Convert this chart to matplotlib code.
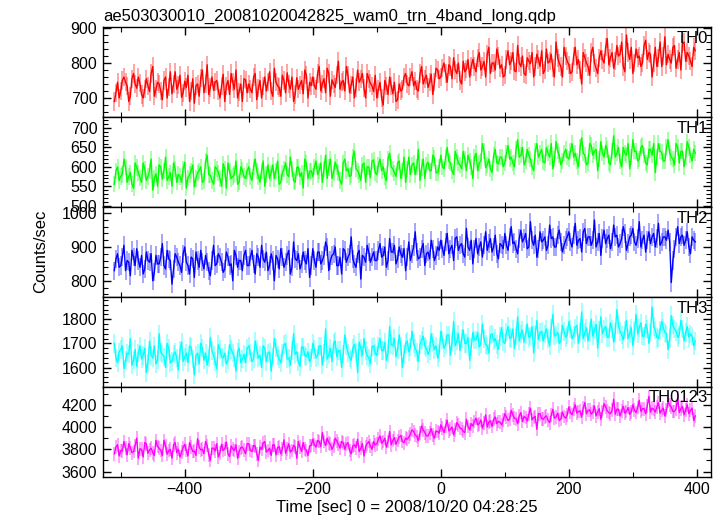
import numpy as np
import matplotlib
matplotlib.use("Agg")
import matplotlib.pyplot as plt
from matplotlib.ticker import MultipleLocator

plt.rcParams['font.family'] = ['Liberation Sans', 'DejaVu Sans']

title = "ae503030010_20081020042825_wam0_trn_4band_long.qdp"
xlabel = "Time [sec] 0 = 2008/10/20 04:28:25"
ylabel = "Counts/sec"
names = ["TH0", "TH1", "TH2", "TH3", "TH0123"]
colors = ["#ff0000", "#00ff00", "#0000ff", "#00ffff", "#ff00ff"]

# bins start at -510 s (list "a") and at -507.5 s (list "b"), 5 s apart each
t0_a = -510.0
t0_b = -507.5
step = 5.0

th0_a = [690, 745, 720, 760, 735, 705, 770, 728, 742, 700, 755, 718, 790, 725, 740, 695, 760, 732, 712, 775, 738, 702, 748, 765, 720, 685, 740, 758, 715, 795, 730, 722, 750, 700, 768, 735, 710, 745, 780, 718, 690, 752,
         740, 715, 770, 728, 700, 760, 745, 720, 785, 735, 705, 750, 772, 725, 690, 758, 738, 712, 765, 745,
         760, 725, 790, 740, 715, 770, 752, 730, 805, 745, 720, 765, 738, 700, 780, 755, 728, 770, 742, 718,
         700, 745, 680, 735, 760, 712, 690, 740, 725, 770,
         735, 775, 748, 720, 790, 755, 730, 768, 745, 780,
         760, 800, 745, 790, 815, 770, 750, 805, 782, 760,
         810, 775, 830, 790, 760, 845, 800, 780, 820, 795, 765, 835, 805, 778, 850, 790, 770, 815, 798, 760,
         825, 790, 770, 840, 805, 785, 860, 800, 760, 820, 795, 775, 845, 810, 740, 815, 790, 830, 800, 770,
         835, 800, 870, 815, 785, 850, 825, 790, 880, 810, 770, 840, 820, 800, 865, 830, 760, 845, 815, 790, 875, 825, 800, 850, 810, 780, 860, 830, 805, 845]
th0_b = [715, 700, 750, 745, 690, 755, 740, 760, 710, 725, 735, 770, 705, 745, 720, 750, 700, 775, 740, 725, 765, 715, 730, 690, 755, 735, 705, 780, 740, 710, 760, 745, 720, 735, 690, 750, 770, 725, 700, 740, 755, 715,
         725, 760, 695, 750, 735, 720, 775, 705, 745, 730, 765, 715, 740, 760, 710, 725, 750, 780, 700, 735,
         735, 770, 720, 755, 785, 705, 740, 765, 725, 750, 790, 715, 760, 730, 745, 770, 700, 755, 735, 765,
         725, 700, 750, 710, 735, 745, 695, 720, 760, 740,
         760, 735, 725, 770, 740, 765, 745, 710, 785, 755,
         785, 770, 795, 755, 780, 800, 740, 775, 810, 790,
         790, 815, 780, 805, 825, 770, 800, 840, 785, 760, 810, 795, 830, 775, 800, 820, 765, 805, 830, 790,
         810, 835, 780, 800, 825, 760, 815, 790, 845, 805, 770, 820, 795, 780, 830, 800, 765, 845, 785, 815,
         810, 845, 795, 830, 805, 820, 860, 775, 830, 845, 800, 815, 790, 850, 810, 825, 800, 790, 860, 820, 795, 810, 845, 785, 830, 855, 805, 820, 790, 835]

th1_a = [555, 600, 575, 620, 560, 585, 545, 598, 572, 610, 565, 590, 540, 582, 605, 568, 625, 575, 550, 595, 580, 560, 612, 572, 590, 548, 585, 600, 565, 630, 578, 555, 595, 570, 608, 545, 588, 575, 615, 560, 592, 570,
         600, 565, 620, 575, 590, 550, 605, 585, 570, 615, 560, 595, 580, 625, 565, 598, 575, 545, 610, 588,
         575, 615, 590, 560, 630, 598, 570, 612, 585, 555, 620, 595, 578, 640, 590, 565, 610, 600, 572, 618,
         580, 620, 600, 565, 635, 595, 575, 615, 590, 560, 625, 605, 580, 645, 598, 570, 612, 590, 622, 585,
         630, 595, 650, 610, 580, 625, 605, 640, 590, 615, 570, 635, 610, 660, 598, 620, 585, 645, 608, 625,
         610, 655, 625, 600, 670, 630, 605, 645, 620, 590, 660, 635, 612, 650, 625, 595, 665, 630, 615, 645,
         620, 660, 635, 600, 675, 630, 610, 655, 640, 590, 665, 625, 645, 605, 680, 635, 615, 650, 630, 595, 670, 640, 620, 655, 610, 645, 630, 585, 660, 638, 615, 670, 625, 605, 650, 640, 600, 665, 630, 645]
th1_b = [590, 565, 580, 600, 575, 555, 610, 585, 560, 595, 575, 620, 570, 550, 600, 590, 565, 585, 610, 560, 575, 595, 545, 580, 605, 570, 590, 560, 615, 580, 565, 600, 585, 550, 595, 610, 570, 580, 555, 600, 575, 590,
         575, 600, 590, 560, 615, 580, 570, 605, 590, 555, 585, 610, 575, 595, 560, 600, 585, 620, 570, 590,
         600, 580, 610, 595, 570, 620, 585, 600, 565, 610, 590, 575, 625, 595, 580, 605, 560, 600, 615, 585,
         605, 590, 575, 620, 600, 585, 610, 570, 625, 595, 580, 610, 600, 565, 620, 605, 590, 630, 585, 600,
         600, 625, 615, 590, 640, 610, 595, 620, 630, 600, 625, 590, 615, 640, 605, 595, 630, 610, 625, 600,
         635, 620, 610, 645, 625, 650, 615, 630, 600, 640, 625, 645, 610, 635, 660, 620, 640, 605, 635, 625,
         640, 625, 615, 650, 635, 605, 660, 630, 645, 620, 635, 655, 610, 640, 625, 650, 600, 635, 660, 625, 640, 615, 650, 630, 605, 645, 660, 625, 640, 615, 650, 635, 620, 660, 610, 640, 625, 650, 615, 635]

th2_a = [830, 880, 845, 905, 860, 815, 870, 895, 840, 820, 885, 855, 800, 875, 850, 910, 835, 865, 790, 880, 855, 825, 900, 845, 870, 810, 860, 890, 835, 855, 815, 905, 850, 870, 825, 885, 845, 800, 875, 860, 830, 890,
         845, 890, 820, 870, 905, 855, 830, 880, 800, 865, 895, 840, 875, 820, 915, 860, 835, 885, 850, 810,
         895, 840, 885, 860, 915, 830, 875, 900, 845, 820, 890, 870, 930, 850, 880, 805, 870, 905, 855, 885,
         860, 910, 875, 840, 925, 885, 850, 900, 870, 830, 915, 880, 945, 865, 895, 845, 885, 920, 860, 900,
         920, 875, 940, 895, 860, 930, 905, 880, 955, 890, 850, 925, 900, 870, 945, 910, 885, 935, 865, 905,
         940, 890, 960, 915, 880, 950, 925, 895, 975, 905, 870, 945, 920, 890, 965, 930, 900, 950, 885, 920,
         945, 900, 970, 920, 885, 955, 930, 905, 980, 915, 875, 950, 925, 895, 965, 935, 910, 960, 890, 930, 955, 905, 975, 920, 885, 945, 930, 900, 970, 915, 930, 950, 795, 895, 960, 930, 905, 945, 880, 920]
th2_b = [865, 840, 870, 830, 855, 890, 845, 860, 875, 835, 860, 880, 825, 850, 870, 845, 890, 860, 835, 870, 845, 880, 855, 820, 865, 885, 840, 855, 875, 830, 860, 845, 880, 855, 835, 870, 850, 890, 840, 860, 875, 845,
         870, 850, 880, 840, 865, 885, 845, 860, 875, 835, 870, 855, 890, 840, 865, 880, 850, 860, 895, 845,
         860, 885, 850, 875, 900, 860, 880, 845, 870, 895, 855, 880, 865, 840, 890, 875, 855, 885, 870, 860,
         890, 870, 900, 860, 885, 905, 865, 880, 895, 870, 860, 900, 885, 870, 910, 880, 865, 895, 875, 890,
         895, 915, 880, 905, 925, 890, 910, 870, 900, 920, 895, 880, 915, 905, 890, 925, 900, 880, 910, 895,
         905, 930, 910, 895, 925, 915, 940, 900, 920, 935, 895, 915, 930, 905, 925, 900, 935, 915, 905, 930,
         915, 935, 905, 925, 945, 910, 930, 920, 900, 940, 925, 910, 935, 915, 930, 900, 925, 940, 910, 935, 915, 925, 900, 935, 920, 910, 940, 925, 905, 930, 920, 915, 860, 930, 910, 935, 920, 900, 930, 915]

th3_a = [1700, 1620, 1675, 1595, 1660, 1720, 1630, 1605, 1690, 1650, 1580, 1710, 1640, 1615, 1740, 1655, 1600, 1680, 1625, 1665, 1590, 1705, 1645, 1620, 1685, 1570, 1660, 1700, 1630, 1610, 1725, 1650, 1595, 1675, 1640, 1615, 1695, 1660, 1585, 1680, 1635, 1620,
         1690, 1625, 1710, 1640, 1600, 1680, 1660, 1585, 1720, 1650, 1620, 1695, 1635, 1610, 1740, 1665, 1605, 1685, 1645, 1625,
         1700, 1640, 1690, 1610, 1760, 1655, 1625, 1710, 1670, 1600, 1735, 1660, 1630, 1695, 1580, 1680, 1720, 1650, 1615, 1690,
         1650, 1720, 1670, 1630, 1770, 1690, 1645, 1735, 1600, 1700, 1665, 1750, 1680, 1625, 1715, 1690, 1655, 1740, 1675, 1640,
         1750, 1680, 1735, 1650, 1790, 1710, 1670, 1755, 1700, 1630, 1745, 1715, 1685, 1780, 1695, 1660, 1740, 1720, 1675, 1765,
         1700, 1770, 1725, 1680, 1810, 1740, 1705, 1780, 1730, 1660, 1795, 1745, 1710, 1760, 1690, 1820, 1735, 1700, 1775, 1725,
         1790, 1720, 1765, 1700, 1830, 1745, 1710, 1800, 1755, 1680, 1810, 1760, 1725, 1785, 1705, 1840, 1750, 1715, 1795, 1740, 1690, 1820, 1765, 1730, 1780, 1700, 1850, 1755, 1720, 1790, 1745, 1675, 1815, 1760, 1725, 1795, 1710, 1770, 1740, 1690]
th3_b = [1640, 1665, 1690, 1630, 1655, 1610, 1675, 1660, 1635, 1680, 1620, 1650, 1690, 1630, 1665, 1645, 1700, 1620, 1655, 1640, 1670, 1625, 1660, 1690, 1635, 1650, 1615, 1680, 1660, 1640, 1670, 1625, 1695, 1645, 1660, 1630, 1675, 1640, 1665, 1620, 1655, 1680,
         1660, 1635, 1675, 1650, 1690, 1625, 1665, 1645, 1680, 1635, 1660, 1700, 1640, 1670, 1655, 1625, 1685, 1650, 1665, 1640,
         1675, 1650, 1690, 1660, 1635, 1680, 1700, 1645, 1670, 1655, 1690, 1640, 1680, 1665, 1705, 1650, 1670, 1640, 1685, 1660,
         1690, 1670, 1705, 1660, 1695, 1720, 1675, 1690, 1655, 1710, 1685, 1700, 1665, 1695, 1730, 1680, 1670, 1705, 1690, 1660,
         1715, 1695, 1735, 1705, 1690, 1740, 1720, 1700, 1725, 1685, 1715, 1745, 1700, 1720, 1690, 1735, 1710, 1695, 1730, 1705,
         1745, 1720, 1760, 1730, 1710, 1755, 1740, 1725, 1770, 1735, 1715, 1750, 1740, 1720, 1765, 1730, 1745, 1710, 1750, 1735,
         1760, 1735, 1775, 1745, 1720, 1765, 1750, 1730, 1780, 1755, 1740, 1770, 1725, 1760, 1745, 1775, 1735, 1755, 1720, 1765, 1750, 1740, 1785, 1730, 1760, 1745, 1770, 1725, 1755, 1765, 1740, 1720, 1775, 1750, 1735, 1760, 1745, 1725, 1730, 1710]

th0123_a = [3760, 3840, 3790, 3870, 3750, 3815, 3780, 3900, 3805, 3730, 3850, 3795, 3770, 3880, 3810, 3745, 3830, 3790, 3720, 3860, 3800, 3775, 3845, 3740, 3820, 3785, 3895, 3795, 3760, 3835, 3700, 3810, 3850, 3770, 3790, 3865, 3735, 3805, 3840, 3780, 3820, 3760,
            3850, 3780, 3830, 3700, 3800, 3870, 3790, 3745, 3840, 3815, 3760, 3885, 3805, 3775, 3835, 3720, 3820, 3860, 3790, 3830,
            3890, 3820, 3870, 3950, 3835, 3860, 3800, 3900, 3845, 3870,
            3800, 3860, 3760, 3840, 3890, 3810, 3740, 3850, 3830, 3870,
            3850, 3920, 3870, 3820, 3960, 3880, 3845, 3910, 3870, 3900,
            3910, 3975, 3930, 3880, 4010, 3950, 3920, 3985, 3900, 3960,
            4020, 3950, 4060, 3980, 3930, 4040, 3990, 3960, 4070, 3975,
            4010, 4080, 4030, 3990, 4110, 4045, 4005, 4090, 4050, 4020,
            4120, 4060, 4150, 4080, 4030, 4130, 4095, 4055, 4170, 4085, 3980, 4120, 4070, 4100, 4040, 4160, 4090, 4060, 4135, 4080,
            4180, 4110, 4200, 4140, 4090, 4220, 4150, 4115, 4190, 4135, 4070, 4210, 4145, 4120, 4250, 4160, 4100, 4185, 4140, 4115,
            4200, 4130, 4240, 4165, 4120, 4275, 4170, 4135, 4220, 4150, 4100, 4230, 4180, 4140, 4260, 4165, 4110, 4200, 4150, 4060]
th0123_b = [3820, 3740, 3785, 3810, 3850, 3770, 3835, 3720, 3800, 3860, 3765, 3810, 3745, 3825, 3790, 3880, 3755, 3800, 3840, 3770, 3730, 3815, 3790, 3860, 3780, 3745, 3820, 3800, 3870, 3750, 3810, 3785, 3730, 3845, 3805, 3760, 3830, 3790, 3720, 3815, 3795, 3850,
            3790, 3835, 3760, 3820, 3855, 3775, 3810, 3840, 3750, 3825, 3800, 3765, 3850, 3790, 3820, 3870, 3780, 3805, 3745, 3835,
            3840, 3880, 3825, 3870, 3900, 3845, 3830, 3875, 3810, 3860,
            3845, 3790, 3830, 3815, 3780, 3850, 3825, 3870, 3800, 3840,
            3890, 3855, 3900, 3870, 3840, 3905, 3880, 3925, 3860, 3890,
            3935, 3960, 3915, 3945, 3975, 3920, 3950, 3930, 3965, 3945,
            3990, 4010, 3965, 4000, 3975, 4020, 3985, 3950, 4005, 4030,
            4050, 4020, 4065, 4035, 4000, 4055, 4070, 4030, 4045, 4060,
            4090, 4070, 4110, 4075, 4100, 4050, 4085, 4115, 4065, 4095, 4120, 4075, 4090, 4060, 4105, 4080, 4125, 4070, 4095, 4110,
            4130, 4160, 4125, 4145, 4170, 4120, 4155, 4135, 4100, 4165, 4140, 4180, 4130, 4150, 4115, 4160, 4145, 4125, 4175, 4135,
            4150, 4175, 4140, 4165, 4190, 4135, 4160, 4180, 4125, 4170, 4150, 4195, 4140, 4165, 4130, 4185, 4155, 4120, 4170, 4100]

series_a = [th0_a, th1_a, th2_a, th3_a, th0123_a]
series_b = [th0_b, th1_b, th2_b, th3_b, th0123_b]
errors = [26, 21, 27, 38, 62]   # typical 1-sigma error per bin
ylims = [(645, 902), (496, 728), (752, 1018), (1520, 1892), (3553, 4361)]
ymajor = [100, 50, 100, 100, 200]
yminor = [20, 10, 20, 20, 100]

fig = plt.figure(figsize=(7.24, 5.16), dpi=100)
gs = fig.add_gridspec(5, 1, left=0.142, right=0.982, top=0.947, bottom=0.076, hspace=0)
axes = [fig.add_subplot(gs[i]) for i in range(5)]

for i, ax in enumerate(axes):
    ya = np.asarray(series_a[i], dtype=float)
    yb = np.asarray(series_b[i], dtype=float)
    ta = t0_a + step * np.arange(len(ya))
    tb = t0_b + step * np.arange(len(yb))
    t = np.concatenate([ta, tb])
    y = np.concatenate([ya, yb])
    order = np.argsort(t)
    t, y = t[order], y[order]
    e = errors[i]
    ax.vlines(t, y - e, y + e, color=colors[i], alpha=0.45, lw=1.1)
    ax.plot(t, y, color=colors[i], lw=1.0)
    ax.set_xlim(-528, 422)
    ax.set_ylim(*ylims[i])
    ax.xaxis.set_major_locator(MultipleLocator(200))
    ax.xaxis.set_minor_locator(MultipleLocator(100))
    ax.yaxis.set_major_locator(MultipleLocator(ymajor[i]))
    ax.yaxis.set_minor_locator(MultipleLocator(yminor[i]))
    ax.tick_params(which='both', direction='in', top=True, right=True, labelsize=11.5, pad=4)
    ax.tick_params(which='major', length=6, width=1)
    ax.tick_params(which='minor', length=3.5, width=0.8)
    for s in ax.spines.values():
        s.set_linewidth(1.0)
    if i < 4:
        ax.tick_params(labelbottom=False)
    ax.text(0.995, 0.96, names[i], transform=ax.transAxes, ha='right', va='top', fontsize=12)

axes[-1].set_xlabel(xlabel, fontsize=12, labelpad=2)
fig.text(0.056, 0.512, ylabel, rotation=90, ha='center', va='center', fontsize=12)
fig.text(0.142, 0.968, title, ha='left', va='center', fontsize=12)

fig.savefig("out.png", dpi=100)
